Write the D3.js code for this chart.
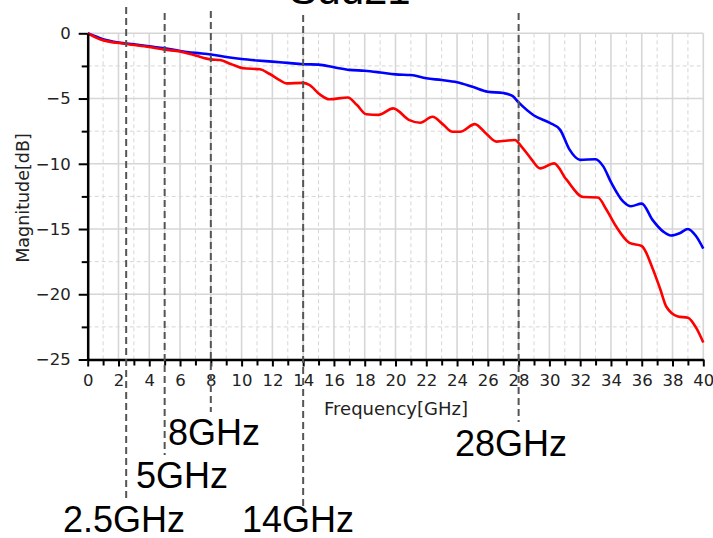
<!DOCTYPE html>
<html lang="en">
<head>
    <meta charset="UTF-8">
    <title>Sdd21</title>
    <script src="https://d3js.org/d3.v7.min.js"></script>
    <style>
        body { margin: 0; background: #fff; }
        svg { display: block; }
    </style>
</head>
<body>
<svg></svg>
<script>

    // --- data ---
    const title = "Sdd21";
    const xLabel = "Frequency[GHz]";
    const yLabel = "Magnitude[dB]";

    const xTicks = d3.range(0, 41, 2);
    const xMinor = d3.range(1, 40, 2);
    const yTicks = [0, -5, -10, -15, -20, -25];
    const yMinor = [-2.5, -7.5, -12.5, -17.5, -22.5];

    // blue trace [GHz, dB]
    const blueFreq = [0, 1, 2, 3, 4, 5, 6, 7, 8, 9, 10, 11, 12, 13, 14, 15, 16, 17, 18, 19, 20, 21, 22, 23, 24, 25, 26, 27, 27.6, 28, 29, 30, 30.7, 31.3, 32, 33, 33.5, 34, 34.8, 35.3, 36, 36.7, 37.4, 37.9, 38.5, 39, 39.5, 40];
    const blueMag = [0, -0.45, -0.7, -0.85, -1.0, -1.15, -1.35, -1.5, -1.62, -1.82, -1.97, -2.08, -2.17, -2.27, -2.37, -2.4, -2.6, -2.8, -2.87, -3.0, -3.15, -3.2, -3.45, -3.58, -3.75, -4.1, -4.48, -4.58, -4.8, -5.3, -6.3, -6.85, -7.4, -8.9, -9.7, -9.65, -10.2, -11.4, -12.9, -13.25, -13.05, -14.3, -15.2, -15.5, -15.3, -15.0, -15.5, -16.5];

    // red trace [GHz, dB]
    const redFreq = [0, 0.8, 2.5, 4, 5, 6, 7, 8, 8.6, 9.3, 10.1, 11.2, 11.8, 12.5, 12.9, 14, 14.4, 15.1, 15.7, 16.9, 17.5, 18.1, 18.9, 19.85, 20.9, 21.6, 22.4, 23.1, 23.7, 24.2, 25.15, 25.9, 26.56, 27.75, 28.2, 28.8, 29.4, 30.3, 31.1, 32.2, 33.15, 33.7, 34.35, 35.2, 36.0, 36.7, 37.2, 37.6, 38.35, 39.0, 39.55, 40];
    const redMag = [0, -0.45, -0.82, -1.05, -1.25, -1.4, -1.7, -2.0, -2.05, -2.35, -2.68, -2.76, -3.1, -3.6, -3.84, -3.8, -3.96, -4.7, -5.06, -4.92, -5.5, -6.2, -6.25, -5.75, -6.65, -6.85, -6.4, -7.0, -7.55, -7.55, -6.96, -7.7, -8.3, -8.18, -8.7, -9.6, -10.35, -9.97, -11.2, -12.55, -12.58, -13.5, -14.83, -16.06, -16.3, -18.0, -19.6, -20.96, -21.7, -21.8, -22.6, -23.7];

    // marker frequencies and their labels
    const markerFreq = [2.5, 5, 8, 14, 28];
    const markerText = ["2.5GHz", "5GHz", "8GHz", "14GHz", "28GHz"];

    // --- layout ---
    const width = 713, height = 538;
    const plotLeft = 87.7, plotRight = 703.3, plotTop = 33.3, plotBottom = 359.5;

    // where each marker line starts/ends and where its label sits
    const markerLayout = [
        { y0: 7,  y1: 502, lx: 63,  ly: 532 },
        { y0: 13, y1: 455, lx: 136, ly: 488 },
        { y0: 11, y1: 412, lx: 168, ly: 445 },
        { y0: 15, y1: 508, lx: 242, ly: 532 },
        { y0: 13, y1: 422, lx: 455, ly: 456 }
    ];

    const svg = d3.select("svg")
        .attr("width", width)
        .attr("height", height);

    const x = d3.scaleLinear().domain([0, 40]).range([plotLeft, plotRight]);
    const y = d3.scaleLinear().domain([-25, 0]).range([plotBottom, plotTop]);

    const gridColor = "#d6d6d6";

    // minor grid (dashed)
    svg.append("g").selectAll("line")
        .data(xMinor)
        .join("line")
        .attr("x1", d => x(d)).attr("x2", d => x(d))
        .attr("y1", plotTop).attr("y2", plotBottom)
        .attr("stroke", gridColor).attr("stroke-width", 1)
        .attr("stroke-dasharray", "4,3");
    svg.append("g").selectAll("line")
        .data(yMinor)
        .join("line")
        .attr("x1", plotLeft).attr("x2", plotRight)
        .attr("y1", d => y(d)).attr("y2", d => y(d))
        .attr("stroke", gridColor).attr("stroke-width", 1)
        .attr("stroke-dasharray", "4,3");

    // major grid (solid)
    svg.append("g").selectAll("line")
        .data(xTicks)
        .join("line")
        .attr("x1", d => x(d)).attr("x2", d => x(d))
        .attr("y1", plotTop).attr("y2", plotBottom)
        .attr("stroke", gridColor).attr("stroke-width", 1.6);
    svg.append("g").selectAll("line")
        .data(yTicks)
        .join("line")
        .attr("x1", plotLeft).attr("x2", plotRight)
        .attr("y1", d => y(d)).attr("y2", d => y(d))
        .attr("stroke", gridColor).attr("stroke-width", 1.6);

    // traces
    const line = d3.line()
        .x(d => x(d[0]))
        .y(d => y(d[1]))
        .curve(d3.curveMonotoneX);

    svg.append("path")
        .datum(d3.zip(blueFreq, blueMag))
        .attr("d", line)
        .attr("fill", "none")
        .attr("stroke", "#0000ff")
        .attr("stroke-width", 2.6);

    svg.append("path")
        .datum(d3.zip(redFreq, redMag))
        .attr("d", line)
        .attr("fill", "none")
        .attr("stroke", "#ff0000")
        .attr("stroke-width", 2.6);

    // axes
    const tickFont = g => g.selectAll("text")
        .attr("font-family", "DejaVu Sans, sans-serif")
        .attr("font-size", 16.5)
        .attr("fill", "#222");

    svg.append("g")
        .attr("transform", `translate(0, ${plotBottom})`)
        .call(d3.axisBottom(x).tickValues(xMinor).tickSize(6).tickFormat(""))
        .call(g => g.select(".domain").remove())
        .call(g => g.selectAll("line").attr("stroke", "#000").attr("stroke-width", 2));

    svg.append("g")
        .attr("transform", `translate(0, ${plotBottom})`)
        .call(d3.axisBottom(x).tickValues(xTicks).tickSize(7).tickPadding(8).tickSizeOuter(0))
        .call(g => g.select(".domain").attr("stroke", "#000").attr("stroke-width", 2.5))
        .call(g => g.selectAll("line").attr("stroke", "#000").attr("stroke-width", 2))
        .call(tickFont);

    svg.append("g")
        .attr("transform", `translate(${plotLeft}, 0)`)
        .call(d3.axisLeft(y).tickValues(yMinor).tickSize(6).tickFormat(""))
        .call(g => g.select(".domain").remove())
        .call(g => g.selectAll("line").attr("stroke", "#000").attr("stroke-width", 2));

    svg.append("g")
        .attr("transform", `translate(${plotLeft}, 0)`)
        .call(d3.axisLeft(y).tickValues(yTicks).tickSize(9).tickPadding(8).tickSizeOuter(0))
        .call(g => g.select(".domain").attr("stroke", "#000").attr("stroke-width", 2.5))
        .call(g => g.selectAll("line").attr("stroke", "#000").attr("stroke-width", 2))
        .call(tickFont);

    // axis titles
    svg.append("text")
        .attr("x", 396).attr("y", 415)
        .attr("text-anchor", "middle")
        .attr("font-family", "DejaVu Sans, sans-serif")
        .attr("font-size", 18)
        .attr("fill", "#222")
        .text(xLabel);

    svg.append("text")
        .attr("transform", "translate(29, 198) rotate(-90)")
        .attr("text-anchor", "middle")
        .attr("font-family", "DejaVu Sans, sans-serif")
        .attr("font-size", 17.5)
        .attr("fill", "#222")
        .text(yLabel);

    // title, mostly above the frame
    svg.append("text")
        .attr("x", 350).attr("y", 4)
        .attr("text-anchor", "middle")
        .attr("font-family", "Liberation Sans, Arial, sans-serif")
        .attr("font-size", 42)
        .attr("fill", "#000")
        .text(title);

    // frequency markers
    svg.append("g").selectAll("line")
        .data(markerFreq)
        .join("line")
        .attr("x1", d => x(d)).attr("x2", d => x(d))
        .attr("y1", (d, i) => markerLayout[i].y0)
        .attr("y2", (d, i) => markerLayout[i].y1)
        .attr("stroke", "#555")
        .attr("stroke-width", 2)
        .attr("stroke-dasharray", "7,4");

    svg.append("g").selectAll("text")
        .data(markerText)
        .join("text")
        .attr("x", (d, i) => markerLayout[i].lx)
        .attr("y", (d, i) => markerLayout[i].ly)
        .attr("font-family", "Liberation Sans, Arial, sans-serif")
        .attr("font-size", 36)
        .attr("fill", "#000")
        .text(d => d);

</script>
</body>
</html>
